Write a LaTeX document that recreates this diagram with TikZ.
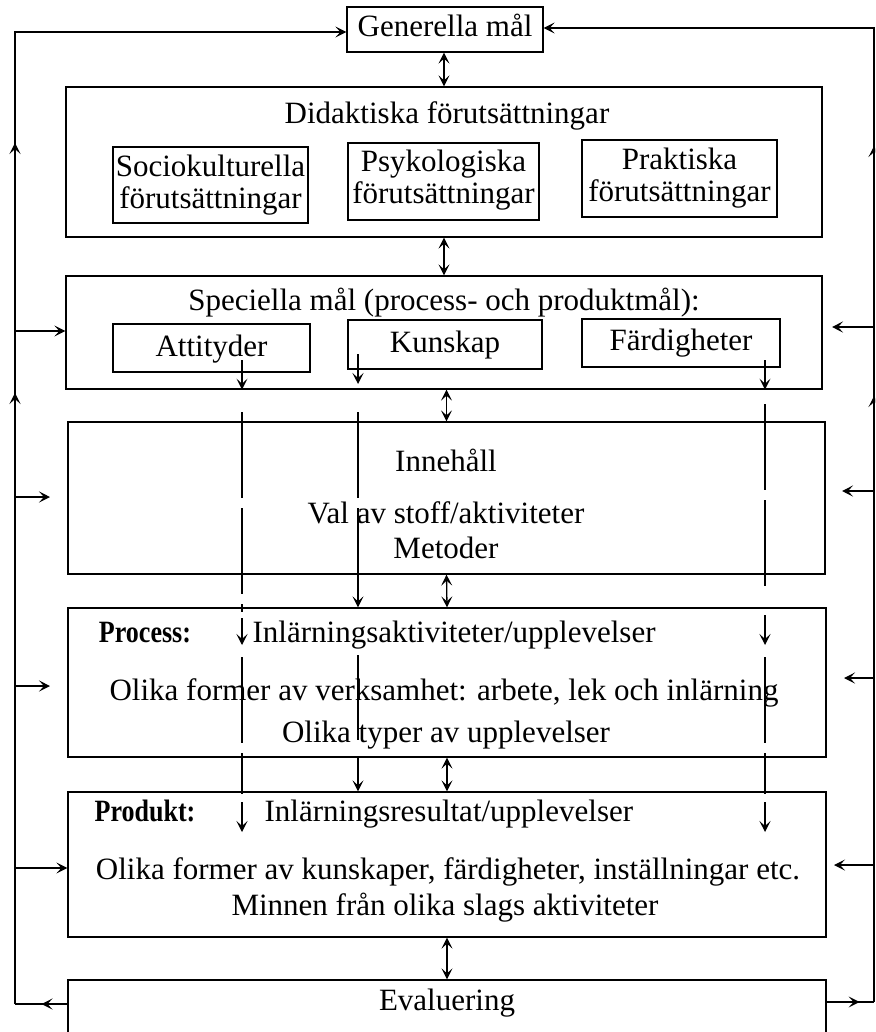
\documentclass[tikz,border=0pt]{standalone}
\usepackage{fontspec}
\setmainfont{Liberation Serif}
\usetikzlibrary{arrows.meta,decorations.markings}
\begin{document}
\begin{tikzpicture}[x=1pt,y=-1pt,
  font=\fontsize{31}{37}\selectfont,
  line width=1.3pt,
  >={Stealth[length=11pt,width=11pt,inset=5pt]},
  box/.style={draw,inner sep=0pt},
  txt/.style={inner sep=0pt,anchor=base},
  lbl/.style={inner sep=0pt,anchor=base,font=\fontsize{31}{37}\selectfont\bfseries},
  midtip/.style={postaction={decorate},
    decoration={markings,mark=at position #1 with {\arrow{>}}}},
  dashln/.style={dash pattern=on 86pt off 10pt}]
\useasboundingbox (0,0) rectangle (875,1032);
\clip (0,0) rectangle (875,1032);

% ---- general goals ----
\node[box,minimum width=196pt,minimum height=45pt] (gen) at (445,29.5) {};
\node[txt] (gent) at (445,37) {Generella mål};

% ---- didactic conditions ----
\node[box,minimum width=756pt,minimum height=150pt] (did) at (444,162) {};
\node[txt] (didt) at (447,124) {Didaktiska förutsättningar};
\node[box,minimum width=195pt,minimum height=76pt] (soc) at (210.5,185) {};
\node[txt] (soc1) at (210.5,177) {Sociokulturella};
\node[txt] (soc2) at (210.5,209) {förutsättningar};
\node[box,minimum width=191pt,minimum height=77pt] (psy) at (443.5,181.5) {};
\node[txt] (psy1) at (443.5,172) {Psykologiska};
\node[txt] (psy2) at (443.5,204) {förutsättningar};
\node[box,minimum width=195pt,minimum height=77pt] (pra) at (679.5,178.5) {};
\node[txt] (pra1) at (679.5,170) {Praktiska};
\node[txt] (pra2) at (679.5,202) {förutsättningar};

% ---- special goals ----
\node[box,minimum width=756pt,minimum height=113pt] (spe) at (444,332.5) {};
\node[txt] (spet) at (444,310) {Speciella mål (process- och produktmål):};
\node[box,minimum width=197pt,minimum height=48pt] (att) at (211.5,348) {};
\node[txt] (attt) at (211.5,356) {Attityder};
\node[box,minimum width=194pt,minimum height=49pt] (kun) at (445,344.5) {};
\node[txt] (kunt) at (445,352) {Kunskap};
\node[box,minimum width=198pt,minimum height=48pt] (far) at (681,343) {};
\node[txt] (fart) at (681,350) {Färdigheter};

% ---- content ----
\node[box,minimum width=757pt,minimum height=152pt] (inn) at (446.5,498) {};
\node[txt] (inn1) at (446,471) {Innehåll};
\node[txt] (inn2) at (446,523) {Val av stoff/aktiviteter};
\node[txt] (inn3) at (446,558) {Metoder};

% ---- process ----
\node[box,minimum width=758pt,minimum height=149pt] (pro) at (447,682.5) {};
\node[lbl] (prol) at (145,642) {\scalebox{0.84}[1]{Process:}};
\node[txt,anchor=base west] (pro1) at (252,642) {Inlärningsaktiviteter/upplevelser};
\node[txt] (pro2) at (444,700) {Olika former av verksamhet: arbete, lek och inlärning};
\node[txt] (pro3) at (446,742) {Olika typer av upplevelser};

% ---- product ----
\node[box,minimum width=758pt,minimum height=145pt] (prd) at (447,864.5) {};
\node[lbl] (prdl) at (145,821) {\scalebox{0.84}[1]{Produkt:}};
\node[txt,anchor=base west] (prd1) at (264,821) {Inlärningsresultat/upplevelser};
\node[txt] (prd2) at (448,879) {Olika former av kunskaper, färdigheter, inställningar etc.};
\node[txt] (prd3) at (445,915) {Minnen från olika slags aktiviteter};

% ---- evaluation ----
\node[box,minimum width=758pt,minimum height=64pt] (eva) at (447,1012) {};
\node[txt] (evat) at (447,1010) {Evaluering};
\coordinate (evaL) at (68,1004);
\coordinate (evaR) at (826,1002);

% ---- two-way links down the middle ----
\draw[<->] (gen.south -| did.north) -- (did.north);
\draw[<->] (did.south) -- (spe.north);
\draw[<->] (inn.north |- spe.south) -- (inn.north);
\draw[<->] (inn.south) -- (pro.north);
\draw[<->] (pro.south) -- (prd.north);
\draw[<->] (prd.south) -- (eva.north);

% ---- dashed goal columns ----
\coordinate (a0) at (242,360);  \coordinate (a1) at (242,412);
\coordinate (a2) at (242,612);  \coordinate (a3) at (242,618);
\coordinate (a4) at (242,645);  \coordinate (a5) at (242,657);
\coordinate (a6) at (242,794);  \coordinate (a7) at (242,802);
\coordinate (a8) at (242,832);
\draw[->] (a0) -- (a0 |- spe.south);
\draw[dashln] (a1) -- (a2);
\draw[->] (a3) -- (a4);
\draw[dashln] (a5) -- (a6);
\draw[->] (a7) -- (a8);

\coordinate (k0) at (358,354);  \coordinate (k1) at (358,384);
\coordinate (k2) at (358,412);  \coordinate (k3) at (358,586);
\coordinate (k4) at (358,655);  \coordinate (k5) at (358,740);
\coordinate (k6) at (358,758);
\draw[->] (k0) -- (k1);
\draw[dashln] (k2) -- (k3);
\draw[->] (k3) -- (k3 |- pro.north);
\draw[dashln] (k4) -- (k5);
\draw[->] (k6) -- (k6 |- prd.north);

\coordinate (f0) at (765,360);  \coordinate (f1) at (765,404);
\coordinate (f2) at (765,590);  \coordinate (f3) at (765,615);
\coordinate (f4) at (765,645);  \coordinate (f5) at (765,657);
\coordinate (f6) at (765,794);  \coordinate (f7) at (765,802);
\coordinate (f8) at (765,832);
\draw[->] (f0) -- (f0 |- spe.south);
\draw[dashln] (f1) -- (f2);
\draw[->] (f3) -- (f4);
\draw[dashln] (f5) -- (f6);
\draw[->] (f7) -- (f8);

% ---- left feedback loop ----
\coordinate (LT) at (15,32);
\coordinate (LB) at (15,1004);
\draw[midtip=0.5] (evaL) -- (LB);
\draw[->] (LB) -- (LT) -- (gen.west |- LT);
\coordinate (Lu1a) at (15,170); \coordinate (Lu1) at (15,143);
\coordinate (Lu2a) at (15,420); \coordinate (Lu2) at (15,393);
\draw[->] (Lu1a) -- (Lu1);
\draw[->] (Lu2a) -- (Lu2);

\coordinate (lspe) at (15,331);
\coordinate (linn) at (15,497);  \coordinate (linnE) at (50,497);
\coordinate (lpro) at (15,686);  \coordinate (lproE) at (50,686);
\coordinate (lprd) at (15,868);
\draw[->] (lspe) -- (spe.west |- lspe);
\draw[->] (linn) -- (linnE);
\draw[->] (lpro) -- (lproE);
\draw[->] (lprd) -- (prd.west |- lprd);

% ---- right feedback loop ----
\coordinate (RT) at (874,28);
\coordinate (RB) at (874,1002);
\draw[midtip=0.7] (evaR) -- (RB);
\draw[->] (RB) -- (RT) -- (gen.east |- RT);
\coordinate (Ru1a) at (874,175); \coordinate (Ru1) at (874,146);
\coordinate (Ru2a) at (874,425); \coordinate (Ru2) at (874,396);
\draw[->] (Ru1a) -- (Ru1);
\draw[->] (Ru2a) -- (Ru2);

\coordinate (rspe) at (874,327); \coordinate (rspeE) at (832,327);
\coordinate (rinn) at (874,491); \coordinate (rinnE) at (842,491);
\coordinate (rpro) at (874,678); \coordinate (rproE) at (844,678);
\coordinate (rprd) at (874,865); \coordinate (rprdE) at (834,865);
\draw[->] (rspe) -- (rspeE);
\draw[->] (rinn) -- (rinnE);
\draw[->] (rpro) -- (rproE);
\draw[->] (rprd) -- (rprdE);
\end{tikzpicture}
\end{document}
